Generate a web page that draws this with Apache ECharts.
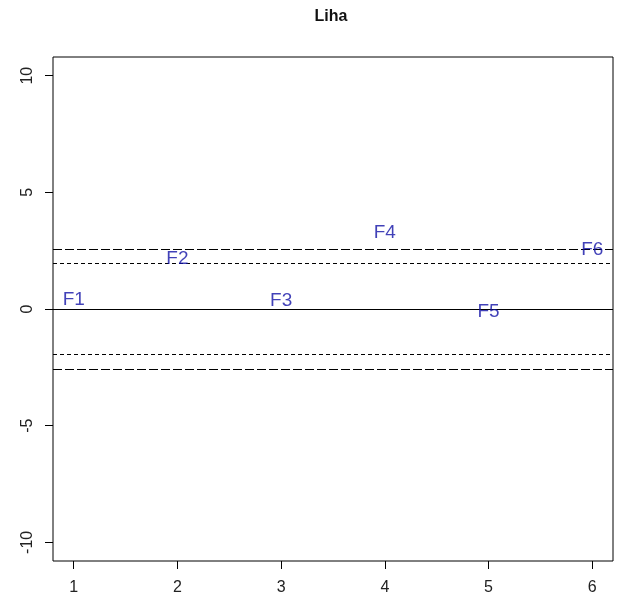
<!DOCTYPE html>
<html>
<head>
<meta charset="utf-8">
<script src="https://cdn.jsdelivr.net/npm/echarts@6/dist/echarts.min.js"></script>
<style>
  html, body { margin: 0; padding: 0; background: #fff; }
  #chart { width: 622px; height: 601px; }
</style>
</head>
<body>
<div id="chart"></div>
<script>
// Factor labels and their plotted positions
const factorNames = ['F1', 'F2', 'F3', 'F4', 'F5', 'F6'];
const factorX = [1, 2, 3, 4, 5, 6];
const factorY = [0.39, 2.15, 0.34, 3.27, -0.13, 2.54];

// Tick values
const xTicks = [1, 2, 3, 4, 5, 6];
const yTicks = [-10, -5, 0, 5, 10];

// Reference levels: zero line, 95% and 99% bounds
const zeroLevel = 0;
const bound95 = [1.96, -1.96];
const bound99 = [2.58, -2.58];

const chart = echarts.init(document.getElementById('chart'));
const font = 'Liberation Sans, Arial, sans-serif';

const points = factorNames.map((n, i) => ({ name: n, value: [factorX[i], factorY[i]] }));

const markData = [
  { yAxis: zeroLevel, lineStyle: { type: 'solid', color: '#000', width: 1 } },
  ...bound95.map(v => ({ yAxis: v, lineStyle: { type: [4, 3], color: '#000', width: 1 } })),
  ...bound99.map(v => ({ yAxis: v, lineStyle: { type: [9, 3], color: '#000', width: 1 } }))
];

chart.setOption({
  animation: false,
  backgroundColor: '#fff',
  title: {
    text: 'Liha',
    left: 326, top: 4, textAlign: 'center',
    textStyle: { fontFamily: font, fontSize: 16, fontWeight: 'bold', color: '#111' }
  },
  grid: {
    left: 53, top: 57, right: 9, bottom: 40,
    show: true, borderColor: '#000', borderWidth: 1, backgroundColor: 'transparent'
  },
  xAxis: {
    type: 'value', min: 0.8, max: 6.2,
    splitLine: { show: false },
    axisLine: { show: false, onZero: false },
    axisTick: { show: true, length: 8, customValues: xTicks, lineStyle: { color: '#000' } },
    axisLabel: { customValues: xTicks, margin: 19, fontFamily: font, fontSize: 16, color: '#222' }
  },
  yAxis: {
    type: 'value', min: -10.8, max: 10.8,
    splitLine: { show: false },
    axisLine: { show: false, onZero: false },
    axisTick: { show: true, length: 8, customValues: yTicks, lineStyle: { color: '#000' } },
    axisLabel: { customValues: yTicks, rotate: 90, margin: 17, fontFamily: font, fontSize: 16, color: '#222' }
  },
  series: [{
    type: 'scatter',
    data: points,
    symbolSize: 1,
    itemStyle: { color: 'rgba(0,0,0,0)' },
    label: {
      show: true, position: 'inside',
      formatter: p => p.name,
      fontFamily: font, fontSize: 19, color: '#1212a6',
      textBorderWidth: 0
    },
    markLine: {
      silent: true, symbol: ['none', 'none'],
      label: { show: false },
      data: markData
    },
    z: 5
  }]
});
</script>
</body>
</html>
